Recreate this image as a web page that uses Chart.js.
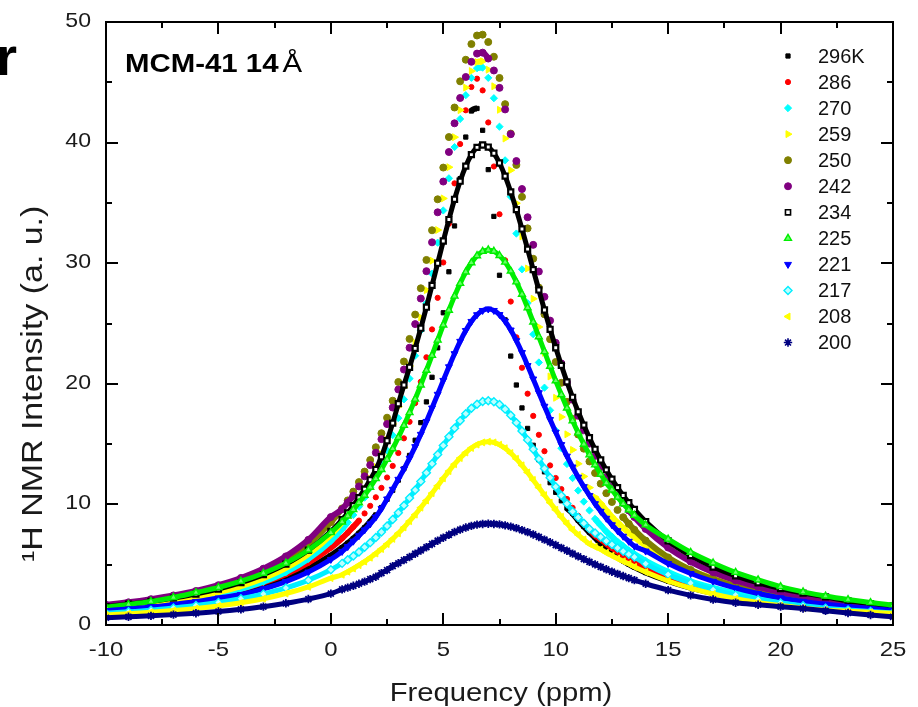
<!DOCTYPE html>
<html><head><meta charset="utf-8">
<script src="https://cdn.jsdelivr.net/npm/chart.js@4.4.1/dist/chart.umd.min.js"></script>
<style>
html,body{margin:0;padding:0;background:#fff;}
#wrap{position:relative;width:918px;height:707px;}
canvas{display:block;}
</style></head><body>
<div id="wrap"><canvas id="c" width="918" height="707"></canvas></div>
<script>
// ---- data ----
const ppm = [-10,-9,-8,-7,-6,-5,-4,-3,-2,-1,0,
 0.5,0.75,1,1.25,1.5,1.75,2,2.25,2.5,2.75,3,3.25,3.5,3.75,4,4.25,4.5,4.75,5,5.25,5.5,5.75,6,6.25,6.5,6.75,
 7,7.25,7.5,7.75,8,8.25,8.5,8.75,9,9.25,9.5,9.75,10,10.25,10.5,10.75,11,11.25,11.5,11.75,12,12.25,12.5,12.75,13,13.25,13.5,
 14,15,16,17,18,19,20,21,22,23,24,25];

const s296 = [1.25,1.40,1.58,1.80,2.06,2.38,2.78,3.27,3.89,4.70,5.76,
 6.41,6.78,7.17,7.60,8.06,8.57,9.13,9.74,10.42,11.17,12.01,12.97,14.06,15.32,16.78,18.50,20.54,22.98,25.89,29.29,33.09,37.01,40.46,42.62,
 42.83,41.02,37.76,33.88,29.0,25.3,22.3,19.9,18.0,16.3,14.9,13.7,12.7,11.8,11.0,10.3,9.7,9.25,8.68,8.17,7.69,7.25,6.7,6.3,5.95,5.62,5.32,5.05,4.8,
 4.35,3.65,3.10,2.65,2.28,1.98,1.74,1.53,1.36,1.21,1.09,0.98];
const s286 = [1.32,1.48,1.68,1.91,2.20,2.54,2.98,3.53,4.23,5.17,6.41,
 7.20,7.65,8.14,8.66,9.25,9.88,10.59,11.37,12.23,13.19,14.26,15.48,16.85,18.40,20.17,22.20,24.51,27.13,30.06,33.27,36.62,39.88,42.68,44.61,
 45.3,
 44.33,41.67,38.02,34.06,30.24,26.82,23.86,21.33,19.18,17.34,15.77,14.41,13.23,12.19,11.27,10.45,9.72,9.05,8.46,7.91,7.42,7.1,6.75,6.4,6.1,5.8,5.5,5.25,
 4.75,3.95,3.3,2.8,2.4,2.08,1.82,1.6,1.42,1.27,1.14,1.03];
const s270 = [1.27,1.44,1.63,1.87,2.16,2.53,2.99,3.59,4.39,5.49,6.97,
 7.95,8.51,9.13,9.81,10.56,11.39,12.32,13.34,14.48,15.74,17.15,18.71,20.43,22.33,24.42,26.69,29.13,31.70,34.37,37.04,39.63,41.96,43.93,45.37,46.17,
 46.22,45.37,43.68,41.32,38.53,35.52,32.46,29.49,26.69,24.11,21.77,19.68,17.80,16.13,14.66,13.35,12.18,11.15,10.23,9.5,8.8,8.27,7.75,7.32,6.9,6.54,6.19,5.88,
 5.32,4.40,3.63,3.07,2.62,2.28,1.96,1.73,1.53,1.37,1.23,1.12];
const s259 = [1.38,1.55,1.76,2.02,2.34,2.73,3.23,3.88,4.73,5.88,7.48,
 8.51,9.11,9.76,10.48,11.27,12.14,13.11,14.17,15.36,16.67,18.11,19.71,21.48,23.40,25.50,27.77,30.21,32.75,35.37,37.96,40.45,42.69,44.56,45.93,46.67,
 46.74,46.05,44.67,42.72,40.34,37.71,34.97,32.22,29.56,27.05,24.71,22.57,20.61,18.84,17.25,15.81,14.52,13.37,12.32,11.39,10.6,10.07,9.5,8.98,8.5,8.06,7.65,7.28,
 6.6,5.5,4.55,3.86,3.30,2.87,2.48,2.19,1.94,1.74,1.56,1.42];
const s250 = [1.59,1.79,2.04,2.33,2.69,3.14,3.71,4.45,5.42,6.72,8.52,
 9.67,10.33,11.06,11.85,12.72,13.68,14.74,15.90,17.19,18.60,20.15,21.85,23.72,25.74,27.92,30.27,32.73,35.30,37.93,40.46,42.91,45.08,46.87,48.17,48.88,
 48.95,48.34,47.12,45.36,43.19,40.75,38.15,35.50,32.89,30.37,27.98,25.76,23.70,21.81,20.08,18.51,17.09,15.79,14.62,13.56,12.60,11.72,10.93,10.20,9.54,8.94,8.39,7.89,
 7.00,5.60,4.57,3.80,3.20,2.73,2.36,2.05,1.80,1.60,1.42,1.28];
const s242 = [1.67,1.88,2.14,2.45,2.82,3.30,3.90,4.67,5.69,7.06,8.95,
 9.6,10.15,10.72,11.49,12.33,13.26,14.29,15.41,16.66,18.03,19.53,21.18,22.99,24.95,27.07,29.34,31.73,34.22,36.77,39.22,41.60,43.70,45.44,46.70,47.38,
 47.46,46.97,45.98,44.54,42.75,40.70,38.47,36.15,33.81,31.52,29.31,27.21,25.24,23.40,21.69,20.12,18.68,17.35,16.14,15.04,14.02,13.10,12.24,11.47,10.76,10.10,9.50,8.95,
 7.97,6.42,5.26,4.38,3.70,3.17,2.73,2.38,2.10,1.86,1.66,1.49];
const s234 = [1.53,1.72,1.95,2.23,2.57,2.98,3.51,4.18,5.05,6.20,7.76,
 8.74,9.29,9.90,10.55,11.27,12.04,12.89,13.95,15.28,16.74,18.35,19.90,21.37,22.94,24.61,26.35,28.16,30.00,31.84,33.62,35.30,36.80,38.05,39.00,39.60,
 39.8,
 39.63,39.12,38.31,37.22,35.91,34.44,32.84,31.17,29.47,27.78,26.12,24.52,22.99,21.53,20.16,18.88,17.68,16.57,15.53,14.57,13.68,12.86,12.10,11.39,10.74,10.14,9.58,
 8.58,6.97,5.75,4.81,4.08,3.49,3.02,2.64,2.33,2.0,1.78,1.58];
const s225 = [1.48,1.70,1.95,2.28,2.69,3.11,3.63,4.29,5.13,6.22,7.66,
 8.54,9.04,9.57,10.14,10.76,11.42,12.14,12.90,13.73,14.61,15.55,16.55,17.61,18.73,19.90,21.12,22.36,23.62,24.88,26.10,27.27,28.33,29.27,30.04,30.62,30.98,
 31.1,
 30.99,30.64,30.09,29.35,28.45,27.43,26.31,25.12,23.90,22.67,21.45,20.25,19.10,17.99,16.93,15.93,14.99,14.11,13.28,12.50,11.78,11.2,10.6,10.05,9.55,9.1,
 8.3,7.12,6.03,5.14,4.36,3.74,3.18,2.75,2.40,2.11,1.86,1.65];
const s221 = [1.19,1.33,1.50,1.71,1.95,2.24,2.53,3.0,3.60,4.39,5.44,
 6.1,6.5,6.95,7.4,7.88,8.38,8.95,9.65,10.45,11.25,12.08,12.92,13.83,14.79,15.81,16.88,17.99,19.13,20.28,21.41,22.50,23.52,24.42,25.17,25.73,26.08,
 26.2,
 26.08,25.74,25.19,24.46,23.58,22.59,21.51,20.40,19.26,18.14,17.04,15.98,14.96,14.00,13.10,12.26,11.47,10.74,10.06,9.43,8.85,8.31,7.82,7.36,6.94,6.54,
 6.13,5.10,4.27,3.62,3.06,2.61,2.25,1.96,1.73,1.53,1.36,1.22];
const s217 = [0.97,1.09,1.23,1.41,1.61,1.86,2.17,2.57,3.07,3.72,4.58,
 5.11,5.41,5.72,6.06,6.44,6.83,7.26,7.72,8.21,8.74,9.30,9.90,10.53,11.20,11.90,12.63,13.37,14.13,14.88,15.61,16.31,16.94,17.51,17.97,18.31,18.53,
 18.6,
 18.52,18.28,17.90,17.40,16.78,16.09,15.35,14.57,13.77,12.98,12.21,11.46,10.74,10.06,9.42,8.91,8.43,7.97,7.62,7.29,6.97,6.67,6.38,6.12,5.87,5.64,
 5.08,4.18,3.49,2.93,2.48,2.12,1.83,1.60,1.40,1.24,1.11,0.99];
const s208 = [0.83,0.93,1.05,1.20,1.37,1.58,1.84,2.18,2.61,3.16,3.89,
 4.17,4.42,4.68,4.96,5.26,5.58,5.93,6.30,6.71,7.14,7.60,8.09,8.61,9.15,9.73,10.32,10.93,11.54,12.16,12.76,13.33,13.84,14.30,14.68,14.96,15.14,
 15.2,
 15.14,14.95,14.66,14.26,13.78,13.24,12.65,12.03,11.40,10.77,10.15,9.55,8.97,8.42,7.90,7.48,7.09,6.72,6.49,6.27,5.99,5.75,5.51,5.28,5.07,4.82,
 4.39,3.65,3.05,2.57,2.18,1.86,1.61,1.40,1.23,1.15,1.05,0.97];
const s200 = [0.60,0.68,0.76,0.86,0.98,1.12,1.30,1.52,1.80,2.15,2.60,
 2.95,3.10,3.25,3.42,3.60,3.80,4.00,4.30,4.55,4.88,5.12,5.38,5.64,5.91,6.18,6.45,6.72,6.99,7.24,7.48,7.71,7.91,8.08,8.22,8.32,8.38,
 8.4,
 8.38,8.34,8.26,8.16,8.03,7.87,7.70,7.51,7.30,7.08,6.86,6.63,6.39,6.16,5.92,5.69,5.46,5.24,5.03,4.82,4.62,4.42,4.24,4.06,3.89,3.72,
 3.42,2.89,2.46,2.11,1.85,1.68,1.52,1.36,1.18,1.0,0.83,0.68];

const seriesLabels = ['296K','286','270','259','250','242','234','225','221','217','208','200'];
const seriesValues = [s296,s286,s270,s259,s250,s242,s234,s225,s221,s217,s208,s200];
const xTicks = [-10,-5,0,5,10,15,20,25];
const xMinorTicks = [-7.5,-2.5,2.5,7.5,12.5,17.5,22.5];
const yTicks = [0,10,20,30,40,50];
const yMinorTicks = [5,15,25,35,45];
const xTitle = 'Frequency (ppm)';
const yTitle = '\u00B9H NMR Intensity (a. u.)';
const panelTitle = 'MCM-41 14';
const panelUnit = 'Å';

// ---- styles ----
const FONT = '"Liberation Sans", Arial, Helvetica, sans-serif';
const TEXT = '#1a1a1a';
const styles = [
  {c:'#000000', bg:'#000000', ps:'rect',     r:3.0, rot:0,   bw:1,   dense:false},
  {c:'#ff0000', bg:'#ff0000', ps:'circle',   r:2.6, rot:0,   bw:1,   dense:false},
  {c:'#00ffff', bg:'#00ffff', ps:'rectRot',  r:3.6, rot:0,   bw:1,   dense:false},
  {c:'#ffff00', bg:'#ffff00', ps:'triangle', r:4.0, rot:90,  bw:1,   dense:false},
  {c:'#808000', bg:'#808000', ps:'circle',   r:3.5, rot:0,   bw:1,   dense:false},
  {c:'#800080', bg:'#800080', ps:'circle',   r:3.5, rot:0,   bw:1,   dense:false},
  {c:'#000000', bg:'#ffffff', ps:'rect',     r:3.6, rot:0,   bw:2.2, dense:true},
  {c:'#00ee00', bg:'#66ff66', ps:'triangle', r:4.0, rot:0,   bw:1.4, dense:true},
  {c:'#0000ff', bg:'#0000ff', ps:'triangle', r:4.0, rot:180, bw:1,   dense:true},
  {c:'#00eeff', bg:'#bbffff', ps:'rectRot',  r:4.0, rot:0,   bw:1.4, dense:true},
  {c:'#ffff00', bg:'#ffff00', ps:'triangle', r:4.0, rot:270, bw:1,   dense:true},
  {c:'#000080', bg:'#000080', ps:'star',     r:4.2, rot:0,   bw:1.8, dense:true}
];

function segVisible(ctx){
  const dx = ctx.p1.parsed.x - ctx.p0.parsed.x;
  return dx > 0.3 || Math.abs(ctx.p1.y - ctx.p0.y) < 7;
}

const datasets = seriesValues.map((ys,i)=>{
  const st = styles[i];
  const ds = {
    label: seriesLabels[i],
    data: ppm.map((x,k)=>({x:x, y:ys[k]})),
    showLine: true,
    borderColor: st.c,
    borderWidth: st.dense ? 5 : 6,
    backgroundColor: st.bg,
    pointBackgroundColor: st.bg,
    pointBorderColor: st.c,
    pointBorderWidth: st.bw,
    pointStyle: st.ps,
    pointRadius: st.r,
    pointRotation: st.rot,
    pointHoverRadius: st.r,
    cubicInterpolationMode: 'monotone',
    tension: 0.3,
    fill: false,
    order: 11 - i
  };
  if (!st.dense) {
    ds.segment = { borderColor: c => segVisible(c) ? st.c : 'rgba(0,0,0,0)' };
  }
  return ds;
});

function drawMarker(ctx, st, x, y){
  ctx.save();
  ctx.fillStyle = st.bg; ctx.strokeStyle = st.c; ctx.lineWidth = Math.min(st.bw, 1.6);
  if (Chart.helpers && Chart.helpers.drawPoint) {
    Chart.helpers.drawPoint(ctx, {pointStyle: st.ps, radius: st.r, rotation: st.rot, borderWidth: Math.min(st.bw, 1.6)}, x, y);
  } else {
    ctx.beginPath(); ctx.arc(x, y, st.r, 0, Math.PI*2); ctx.fill(); ctx.stroke();
  }
  ctx.restore();
}

// text drawn with a horizontal stretch along its reading direction
function stretchedText(ctx, txt, x, y, font, sx, align, baseline, rot){
  ctx.save();
  ctx.translate(x, y);
  if (rot) ctx.rotate(rot);
  ctx.scale(sx, 1);
  ctx.font = font;
  ctx.textAlign = align;
  ctx.textBaseline = baseline;
  ctx.fillText(txt, 0, 0);
  ctx.restore();
}

const framePlugin = {
  id: 'frameTicks',
  afterDatasetsDraw(chart){
    const {ctx, chartArea:a, scales} = chart;
    const xs = scales.x, ys = scales.y;
    ctx.save();
    ctx.strokeStyle = '#000';
    ctx.lineWidth = 2;
    ctx.strokeRect(a.left, a.top, a.right - a.left, a.bottom - a.top);
    ctx.beginPath();
    const vx = (v, len) => { const p = Math.round(xs.getPixelForValue(v));
      ctx.moveTo(p, a.bottom); ctx.lineTo(p, a.bottom - len);
      ctx.moveTo(p, a.top); ctx.lineTo(p, a.top + len); };
    const vy = (v, len) => { const p = Math.round(ys.getPixelForValue(v));
      ctx.moveTo(a.left, p); ctx.lineTo(a.left + len, p);
      ctx.moveTo(a.right, p); ctx.lineTo(a.right - len, p); };
    xTicks.forEach(v => vx(v, 12));
    xMinorTicks.forEach(v => vx(v, 6));
    yTicks.forEach(v => vy(v, 12));
    yMinorTicks.forEach(v => vy(v, 6));
    ctx.stroke();
    ctx.restore();
  },
  afterDraw(chart){
    const ctx = chart.ctx;
    const xs = chart.scales.x, ys = chart.scales.y;
    ctx.save();
    ctx.fillStyle = TEXT;
    // tick labels
    xTicks.forEach(v => stretchedText(ctx, String(v), xs.getPixelForValue(v), 650, '21px ' + FONT, 1.14, 'center', 'middle', 0));
    yTicks.forEach(v => stretchedText(ctx, String(v), 91, ys.getPixelForValue(v) - 1, '21px ' + FONT, 1.1, 'right', 'middle', 0));
    // axis titles
    stretchedText(ctx, xTitle, 501, 701, '25px ' + FONT, 1.17, 'center', 'alphabetic', 0);
    stretchedText(ctx, yTitle, 42, 562, '29px ' + FONT, 1.17, 'left', 'alphabetic', -Math.PI / 2);
    // legend
    ctx.font = '20px ' + FONT;
    ctx.textBaseline = 'middle';
    ctx.textAlign = 'left';
    seriesLabels.forEach((lab, i) => {
      const y = 56 + i * 26.05;
      drawMarker(ctx, styles[i], 788, y);
      ctx.fillStyle = '#111';
      ctx.fillText(lab, 818, y + 1);
    });
    // panel title
    ctx.fillStyle = '#000';
    stretchedText(ctx, panelTitle, 125, 72, 'bold 26px ' + FONT, 1.13, 'left', 'alphabetic', 0);
    ctx.font = 'bold 26px ' + FONT;
    const w = ctx.measureText(panelTitle).width * 1.13;
    stretchedText(ctx, panelUnit, 125 + w + 4, 72, '26px ' + FONT, 1.13, 'left', 'alphabetic', 0);
    // clipped letter at the left edge
    ctx.font = 'bold 54px ' + FONT;
    ctx.textAlign = 'left';
    ctx.textBaseline = 'alphabetic';
    ctx.fillText('r', -4, 75);
    ctx.restore();
  }
};

new Chart(document.getElementById('c'), {
  type: 'scatter',
  data: { datasets },
  options: {
    responsive: false,
    devicePixelRatio: 1,
    animation: false,
    events: [],
    layout: { padding: { top: 22, right: 25, bottom: 0, left: 0 } },
    plugins: { legend: { display: false }, tooltip: { enabled: false } },
    scales: {
      x: {
        type: 'linear', min: -10, max: 25,
        afterBuildTicks: s => { s.ticks = xTicks.map(v => ({value: v})); },
        afterFit: s => { s.height = 82; },
        grid: { display: false, drawTicks: false },
        border: { display: false },
        ticks: { display: false },
        title: { display: false }
      },
      y: {
        type: 'linear', min: 0, max: 50,
        afterBuildTicks: s => { s.ticks = yTicks.map(v => ({value: v})); },
        afterFit: s => { s.width = 106; },
        grid: { display: false, drawTicks: false },
        border: { display: false },
        ticks: { display: false },
        title: { display: false }
      }
    }
  },
  plugins: [framePlugin]
});
</script>
</body></html>
